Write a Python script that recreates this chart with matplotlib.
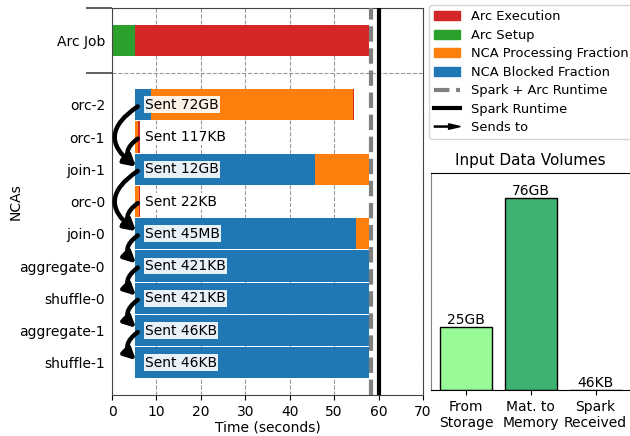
import numpy as np
import matplotlib
matplotlib.use("Agg")
import matplotlib.pyplot as plt
import matplotlib.patches as mpatches
from matplotlib.lines import Line2D
from matplotlib.legend_handler import HandlerPatch

# rows, bottom to top
ncas = ["shuffle-1", "aggregate-1", "shuffle-0", "aggregate-0", "join-0",
        "orc-0", "join-1", "orc-1", "orc-2"]
start = 5.2
blocked = [52.6, 52.6, 52.6, 52.6, 49.7, 0.0, 40.5, 0.0, 3.6]
processing = [0.0, 0.0, 0.0, 0.0, 2.9, 0.8, 12.1, 0.7, 45.5]
tail = [0.1, 0.1, 0.1, 0.1, 0.1, 0.25, 0.1, 0.3, 0.1]
sent = ["Sent 46KB", "Sent 46KB", "Sent 421KB", "Sent 421KB", "Sent 45MB",
        "Sent 22KB", "Sent 12GB", "Sent 117KB", "Sent 72GB"]
sends_to = [("orc-2", "join-1"), ("orc-1", "join-1"), ("join-1", "join-0"),
            ("orc-0", "join-0"), ("join-0", "aggregate-0"),
            ("aggregate-0", "shuffle-0"), ("shuffle-0", "aggregate-1"),
            ("aggregate-1", "shuffle-1")]
arc_setup = 5.2
arc_exec = 52.7
spark_arc_runtime = 58.2
spark_runtime = 60.0

vol_labels = ["From\nStorage", "Mat. to\nMemory", "Spark\nReceived"]
vol_values = [25, 76, 46e-6]
vol_text = ["25GB", "76GB", "46KB"]

fig = plt.figure(figsize=(6.3, 4.36), dpi=100)
ax = fig.add_axes([0.1778, 0.094, 0.4937, 0.8876])

ypos = np.arange(len(ncas))
h = 0.97
ax.barh(ypos, blocked, left=start, height=h, color="#1f77b4", zorder=2)
left2 = start + np.array(blocked)
ax.barh(ypos, processing, left=left2, height=h, color="#ff7f0e", zorder=2)
left3 = left2 + np.array(processing)
ax.barh(ypos, tail, left=left3, height=h, color="#d62728", zorder=2)

arc_y = len(ncas) + 1
ax.barh(arc_y, arc_setup, left=0, height=h, color="#2ca02c", zorder=2)
ax.barh(arc_y, arc_exec, left=arc_setup, height=h, color="#d62728", zorder=2)

for y, s in zip(ypos, sent):
    ax.text(7.4, y, s, va="center", ha="left", fontsize=10, zorder=5,
            bbox=dict(facecolor="white", alpha=0.9, edgecolor="none", pad=1))

for a, b in sends_to:
    ya = ncas.index(a)
    yb = ncas.index(b)
    rad = 0.6 if ya - yb == 1 else 0.7
    ax.annotate("", xy=(5.4, yb + 0.08), xytext=(5.8, ya - 0.05),
                arrowprops=dict(arrowstyle="-|>", connectionstyle="arc3,rad=%s" % rad,
                                lw=3.2, color="black", mutation_scale=17,
                                shrinkA=0, shrinkB=0),
                zorder=6, annotation_clip=False)

ax.axvline(spark_arc_runtime, color="gray", lw=3, ls="--", zorder=4)
ax.axvline(spark_runtime, color="black", lw=3, zorder=4)

ax.set_xlim(0, 70)
ax.set_ylim(-1, len(ncas) + 2)
ax.set_yticks(list(ypos) + [arc_y])
ax.set_yticklabels(ncas + ["Arc Job"], fontsize=10)
ax.set_yticks([len(ncas), len(ncas) + 2], minor=True)
ax.tick_params(axis="y", which="major", length=0, pad=5)
ax.tick_params(axis="y", which="minor", length=19, width=1.2, color="#444444")
ax.set_xticks(np.arange(0, 71, 10))
ax.tick_params(axis="x", labelsize=10)
ax.grid(axis="x", which="major", ls="--", color="gray", lw=0.8, alpha=0.8, zorder=0)
ax.grid(axis="y", which="minor", ls="--", color="gray", lw=0.8, alpha=0.8, zorder=0)
ax.set_axisbelow(True)
ax.set_xlabel("Time (seconds)", fontsize=10, labelpad=1)
ax.set_ylabel("NCAs", fontsize=10)
ax.yaxis.set_label_coords(-0.286, 0.5)
for sp in ax.spines.values():
    sp.set_color("#444444")

# legend
def make_arrow(legend, orig_handle, xdescent, ydescent, width, height, fontsize):
    return mpatches.FancyArrow(0, 0.5 * height, width, 0, length_includes_head=True,
                               head_width=0.6 * height, head_length=0.45 * width,
                               width=0.12 * height, color="black")

handles = [mpatches.Patch(color="#d62728"), mpatches.Patch(color="#2ca02c"),
           mpatches.Patch(color="#ff7f0e"), mpatches.Patch(color="#1f77b4"),
           Line2D([], [], color="gray", lw=3, ls="--"),
           Line2D([], [], color="black", lw=3),
           mpatches.FancyArrow(0, 0, 1, 0, color="black")]
labels = ["Arc Execution", "Arc Setup", "NCA Processing Fraction",
          "NCA Blocked Fraction", "Spark + Arc Runtime", "Spark Runtime", "Sends to"]
fig.legend(handles, labels, loc="upper left", bbox_to_anchor=(429 / 630, 1 - 5 / 436),
           borderaxespad=0, fontsize=9.4, labelspacing=0.42,
           handler_map={mpatches.FancyArrow: HandlerPatch(patch_func=make_arrow)})

# inset
ax2 = fig.add_axes([0.684, 0.1055, 0.317, 0.4977])
xs = np.arange(len(vol_values))
ax2.bar(xs, vol_values, width=0.8, color=["#98fb98", "#3cb371", "#2e8b57"],
        edgecolor="black", lw=1)
for x, v, t in zip(xs, vol_values, vol_text):
    ax2.text(x, v, t, ha="center", va="bottom", fontsize=10)
ax2.set_ylim(0, 86)
ax2.set_yticks([])
ax2.set_xticks(xs)
ax2.set_xticklabels(vol_labels, fontsize=10)
ax2.set_title("Input Data Volumes", fontsize=11)
ax2.spines["left"].set_color("gray")

fig.savefig("out.png", dpi=100)
